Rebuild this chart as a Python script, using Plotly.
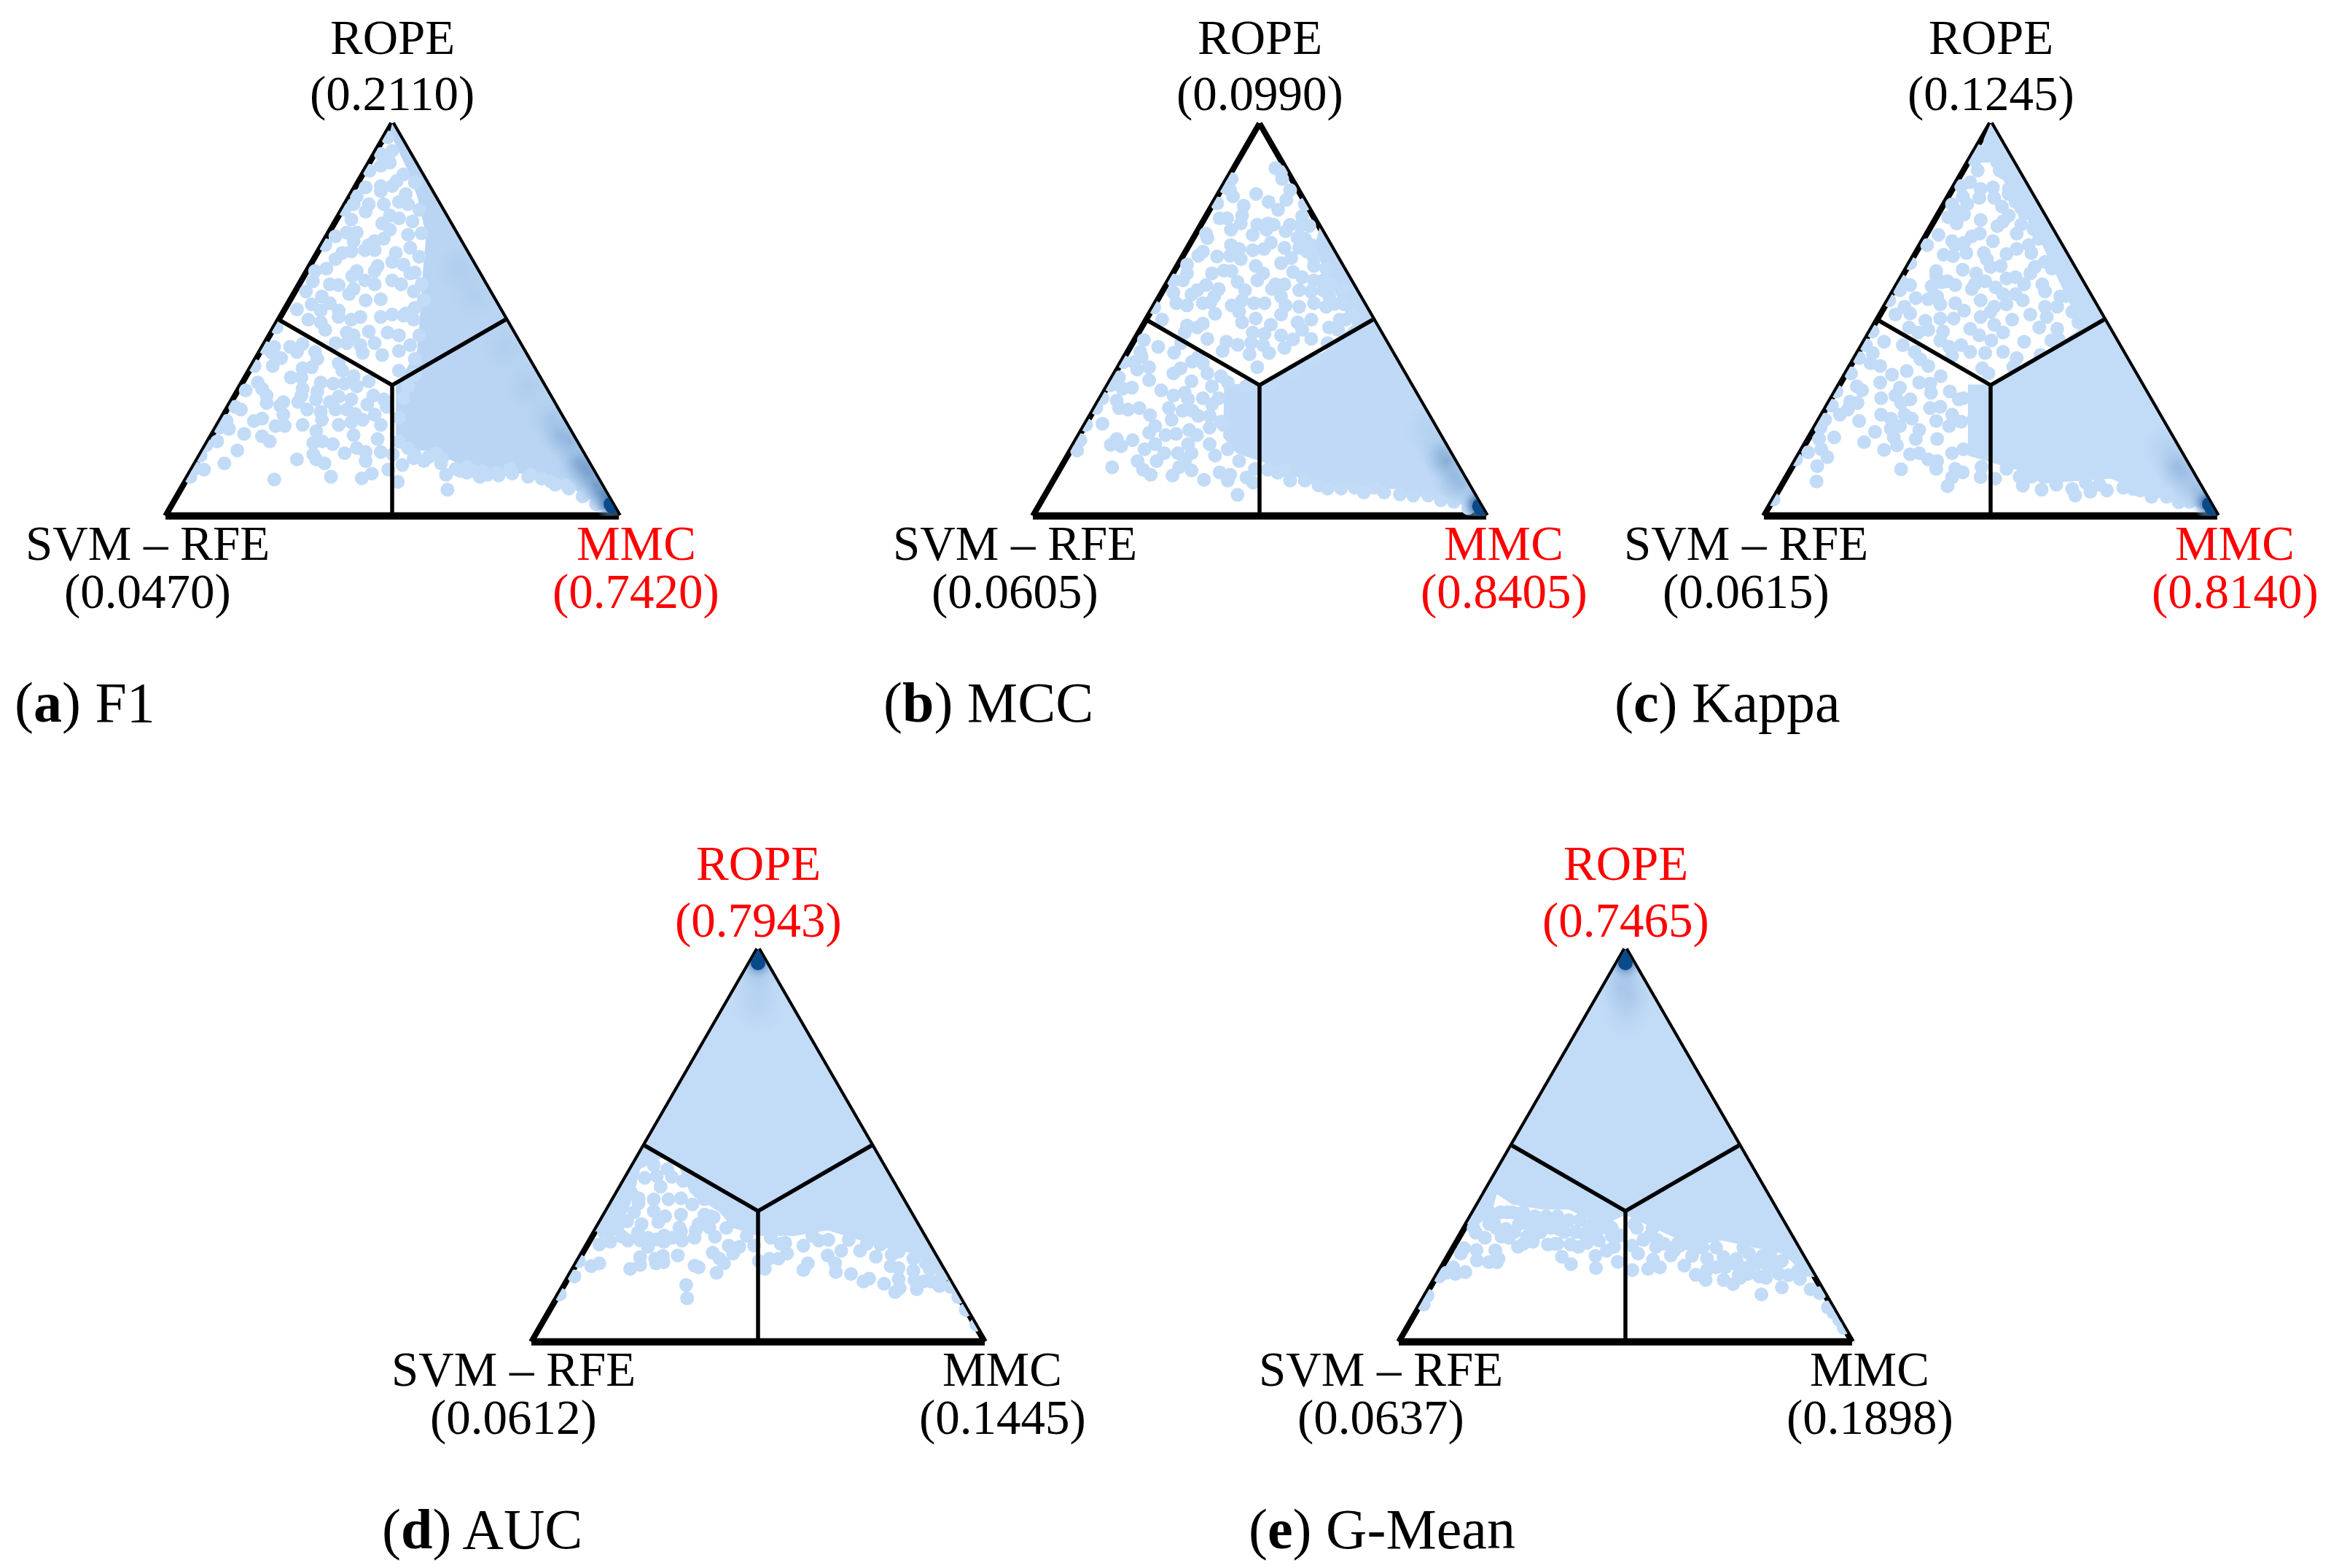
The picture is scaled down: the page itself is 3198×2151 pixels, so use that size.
import plotly.graph_objects as go

# Every sample is (MMC share minus SVM-RFE share, ROPE share).
f1_samples = [(-.02,.964),(-.05,.922),(0,.93),(-.05,.892),(-.01,.90),(-.10,.879),(.05,.87),(-.05,.84),(.02,.853),(-.117,.837),(-.156,.814),(-.103,.794),(-.05,.827),(0,.84),(.07,.794),(-.17,.794),(-.21,.78),(-.117,.775),(-.037,.794),(.03,.80),(-.01,.765),(.03,.758),(-.044,.745),(-.01,.729),(-.18,.755),(-.2,.722),(-.156,.722),(-.25,.712),(-.17,.70),(-.077,.70),(-.037,.706),(-.103,.69),(-.12,.677),(-.077,.677),(-.295,.69),(-.18,.674),(-.22,.67),(-.25,.654),(.016,.67),(.07,.716),(.08,.683),(0,.647),(-.064,.637),(-.077,.624),(-.156,.624),(-.176,.611),(-.29,.63),(-.34,.624),(-.236,.588),(-.275,.59),(-.35,.598),(-.12,.60),(-.077,.59),(0,.60),(.04,.59),(.08,.618),(-.17,.578),(-.19,.565),(-.38,.572),(-.31,.559),(-.275,.542),(-.355,.539),(-.117,.549),(-.05,.552),(.095,.572),(.13,.59),(-.42,.526),(-.315,.523),(-.236,.523),(-.236,.507),(-.18,.50),(-.14,.507),(-.37,.50),(-.315,.493),(-.05,.507),(0,.513),(.06,.516),(-.103,.47),(-.2,.467),(-.17,.46),(-.295,.474),(-.25,.44),(-.2,.44),(-.14,.435),(-.077,.44),(-.02,.467),(.03,.46),(-.13,.415),(-.044,.41),(.08,.435),(.03,.42),(.095,.50),
 (-.51,.48),(-.52,.431),(-.56,.428),(-.53,.415),(-.49,.402),(-.527,.382),(-.607,.382),(-.45,.431),(-.395,.438),(-.42,.418),(-.34,.418),(-.33,.40),(-.395,.376),(-.355,.379),(-.447,.353),(-.40,.353),(-.236,.389),(-.22,.37),(-.17,.356),(-.103,.343),(-.315,.34),(-.26,.337),(-.21,.337),(-.593,.34),(-.574,.324),(-.646,.32),(-.395,.324),(-.554,.307),(-.33,.317),(-.336,.297),(-.40,.307),(-.554,.288),(-.48,.29),(-.494,.281),(-.415,.29),(-.275,.29),(-.236,.304),(-.18,.297),(-.156,.33),(-.083,.307),(-.037,.297),(-.11,.284),(-.693,.278),(-.667,.271),(-.48,.258),(-.375,.271),(-.315,.265),(-.25,.271),(-.2,.271),(-.024,.278),(-.163,.26),(-.077,.258),(-.73,.242),(-.574,.248),(-.61,.242),(-.514,.229),(-.474,.229),(-.395,.232),(-.31,.245),(-.236,.232),(-.18,.239),(-.13,.245),(-.05,.232),(-.76,.225),(-.72,.222),(-.335,.216),(-.653,.209),(-.574,.203),(-.54,.19),(-.348,.186),(-.262,.183),(-.17,.206),(-.064,.196),(-.772,.19),(-.82,.18),(-.308,.19),(-.683,.167),(-.156,.173),(-.21,.16),(-.117,.163),(-.05,.163),(-.845,.154),(-.348,.157),(-.335,.144),(-.42,.144),(-.117,.14),(.003,.157),(-.74,.134),(-.298,.134),(-.865,.121),(-.83,.118),(.045,.13),(.095,.147),(.14,.14),(-.017,.118),(-.89,.10),(-.27,.10),(-.09,.108),(-.134,.096),(-.52,.093),(.025,.087),(.244,.067),(.238,.105),(.28,.12),(.387,.10),(.42,.105),(.47,.103),(.53,.108),(.61,.105),(.70,.088),(.77,.078),(.864,.062),(.917,.033),(.215,.134),(.07,.173),(.195,.16),
 (.10,.85),(.12,.78),(.13,.72),(.12,.66),(.10,.62),(.14,.55),(.10,.53),(.12,.46),(.10,.40),(.03,.37),(.05,.30),(.03,.25),(.03,.19),(.10,.155),(.16,.15),(.22,.145),(.33,.125),(.40,.115),(.46,.11),(.52,.12),(.60,.10),(.66,.095),(.72,.08),(.78,.07),(.84,.05),(.90,.03),(.07,.33),(.10,.36),(.05,.51),(.05,.64),(.09,.75),(.06,.82),(.33,.11),(.36,.115),(.30,.115),(.41,.11)]
f1_band = [(0,1),(.98,.02),(.97,.01),(.89,.036),(.80,.069),(.69,.088),(.57,.108),(.32,.125),(.27,.14),(.16,.165),(.016,.173),(.016,.33),(.11,.42),(.12,.487),(.135,.618),(.15,.716),(.11,.814),(.07,.879),(.016,.944),(-.01,.977)]
f1_peak = [(.97,.025,1.0),(.965,.03,1.0),(.95,.045,.9),(.93,.06,.6),(.90,.08,.55),(.87,.11,.5),(.85,.125,.45),(.82,.14,.4),(.78,.19,.35),(.74,.21,.3),(.70,.25,.2),(.60,.33,.12),(.50,.43,.08),(.36,.56,.06),(.30,.63,.1)]

mcc_samples = [(.07,.886),(.095,.876),(.10,.858),(-.123,.858),(-.15,.837),(-.117,.814),(-.13,.83),(-.015,.82),(.135,.83),(.118,.805),(.04,.80),(.082,.78),(.20,.794),(-.187,.796),(-.07,.79),(-.077,.765),(-.083,.745),(-.176,.758),(-.143,.758),(-.01,.742),(.036,.745),(.062,.742),(-.126,.729),(.03,.729),(.135,.742),(.115,.725),(.188,.763),(.18,.739),(.22,.739),(-.236,.719),(-.23,.708),(-.03,.716),(.168,.709),(.20,.706),(.05,.696),(-.126,.69),(.11,.683),(-.03,.677),(.02,.68),(-.09,.68),(-.25,.673),(-.27,.663),(-.187,.661),(-.13,.663),(-.083,.654),(.175,.683),(.21,.673),(.24,.657),(.095,.644),(.14,.657),(-.32,.64),(-.017,.637),(-.157,.625),(-.124,.624),(-.21,.618),(-.32,.618),(.148,.621),(.188,.608),(.24,.637),(.294,.63),(-.38,.60),(-.338,.6),(.016,.618),(-.01,.60),(-.097,.596),(.07,.59),(.24,.60),(.32,.59),(-.18,.578),(-.236,.588),(-.064,.575),(-.275,.575),(.11,.59),(.175,.575),(.227,.572),(.28,.575),(-.38,.569),(-.30,.564),(-.20,.559),(.055,.578),(.095,.559),(.307,.56),(.373,.578),(-.367,.542),(-.216,.544),(-.25,.542),(-.32,.536),(-.123,.536),(-.077,.549),(-.024,.542),(.022,.542),(.115,.536),(.175,.533),(.24,.542),(.294,.533),(.373,.539),(-.464,.531),(-.196,.515),(-.09,.52),(.095,.513),(.354,.50),(.413,.51),(-.43,.50),(-.077,.493),(-.017,.503),(.05,.487),(.168,.493),(.228,.50),(-.25,.49),(-.32,.485),(-.275,.48),(.307,.48),(-.33,.467),(-.03,.467),(.022,.464),(.095,.46),(.188,.474),(.347,.474),(-.23,.451),(.148,.45),(-.51,.448),(-.146,.444),(-.096,.436),(-.037,.441),(.016,.435),(.228,.451),(-.447,.431),(-.346,.44),(.11,.428),(-.163,.42),(-.526,.418),(-.377,.416),(-.044,.412),(.042,.415),(-.52,.405),(-.27,.405),(-.6,.392),(-.554,.392),(-.298,.393),(-.25,.389),(-.487,.379),(-.01,.379),(-.54,.373),(-.348,.376),(-.38,.363),(-.23,.363),(-.17,.356),(-.62,.353),(-.487,.346),(-.30,.343),(-.21,.33),(-.657,.333),(-.604,.324),(-.563,.327),(-.434,.32),(-.33,.314),(-.38,.307),(-.25,.30),(-.693,.30),(-.315,.297),(-.63,.294),(-.21,.284),(-.62,.275),(-.58,.271),(-.53,.275),(-.72,.275),(-.40,.275),(-.34,.268),(-.296,.268),(-.483,.257),(-.388,.245),(-.27,.255),(-.22,.255),(-.16,.232),(-.765,.232),(-.693,.235),(-.46,.229),(-.22,.225),(-.31,.219),(-.487,.212),(-.415,.206),(-.368,.209),(-.276,.206),(-.79,.193),(-.63,.196),(-.56,.193),(-.656,.181),(-.46,.183),(-.61,.178),(-.315,.183),(-.22,.183),(-.805,.167),(-.507,.17),(-.42,.16),(-.36,.16),(-.30,.16),(-.196,.154),(-.454,.14),(-.538,.14),(-.328,.14),(-.65,.124),(-.355,.124),(-.30,.116),(-.514,.118),(-.48,.105),(-.384,.103),(-.176,.111),(-.13,.105),(-.057,.098),(-.14,.09),(-.245,.092),(-.028,.085),(-.097,.054),(.135,.09),(.11,.116),(.036,.118),(.26,.078),(.42,.072),(.506,.072),(.678,.052),(.744,.052),(.857,.036),
 (.30,.07),(.36,.07),(.46,.06),(.55,.06),(.62,.055),(.80,.04),(.92,.02),(.20,.09),(.08,.11),(-.02,.12),(-.09,.14),(-.14,.17),(-.17,.24),(-.18,.30),(-.14,.34),(-.06,.33),(.06,.34),(.15,.37),(.24,.40),(.30,.44),(.38,.50),(.33,.54),(.28,.60),(.23,.69)]
mcc_band = [(.265,.735),(.99,.01),(.956,.013),(.864,.036),(.744,.049),(.665,.049),(.6,.069),(.49,.069),(.41,.075),(.254,.075),(.16,.10),(.03,.134),(-.10,.16),(-.16,.20),(-.156,.337),(0,.335),(.294,.422),(.41,.487),(.347,.552),(.294,.618),(.24,.683)]
mcc_peak = [(.975,.02,1.0),(.97,.025,1.0),(.96,.035,.9),(.89,.08,.3),(.86,.10,.3),(.824,.14,.45),(.80,.16,.3),(.75,.22,.1)]

kappa_samples = [(-.07,.905),(.03,.90),(-.057,.88),(.06,.873),(-.13,.84),(-.09,.85),(-.044,.833),(.01,.837),(.08,.833),(-.123,.814),(-.05,.81),(.016,.81),(.11,.80),(-.103,.794),(-.17,.794),(-.156,.778),(.05,.788),(.135,.784),(-.117,.768),(-.187,.761),(.08,.765),(-.15,.745),(-.044,.754),(.03,.738),(.055,.75),(.135,.742),(.195,.748),(-.23,.716),(-.17,.70),(-.083,.712),(-.048,.719),(-.117,.696),(.01,.70),(.115,.719),(.168,.69),(.214,.706),(-.156,.69),(-.28,.69),(-.207,.665),(-.166,.662),(-.107,.67),(-.03,.67),(.07,.667),(.115,.68),(.18,.67),(-.017,.654),(-.355,.644),(0,.634),(.045,.637),(.195,.634),(.24,.647),(-.24,.624),(-.123,.627),(-.064,.618),(.175,.618),(-.24,.611),(-.024,.598),(.07,.605),(.11,.608),(-.216,.595),(-.19,.598),(-.26,.585),(-.355,.588),(-.395,.598),(-.156,.588),(-.07,.59),(.228,.59),(.148,.59),(.022,.582),(-.083,.578),(-.40,.575),(-.33,.555),(-.275,.552),(-.236,.559),(.055,.565),(.11,.565),(.24,.572),(.307,.559),(-.447,.549),(-.222,.539),(-.156,.542),(-.044,.549),(.016,.533),(.07,.539),(.142,.549),(.24,.533),(-.38,.533),(-.117,.523),(.294,.533),(.36,.52),(-.42,.513),(-.355,.516),(-.044,.507),(0,.52),(.175,.513),(.248,.507),(-.288,.497),(-.222,.503),(-.163,.503),(.095,.50),(.387,.493),(-.36,.48),(-.275,.474),(-.21,.47),(-.09,.477),(.016,.487),(.215,.48),(.294,.477),(-.52,.47),(-.32,.467),(-.05,.46),(.055,.467),(-.47,.444),(-.222,.447),(.003,.447),(.148,.444),(.268,.447),(-.55,.435),(-.387,.435),(-.13,.435),(-.183,.431),(-.52,.415),(-.335,.418),(-.09,.418),(-.17,.408),(-.024,.415),(.055,.418),(.115,.402),(-.58,.402),(-.53,.389),(-.31,.399),(-.487,.382),(-.275,.382),(-.37,.369),(-.037,.376),(-.01,.363),(-.616,.363),(-.435,.36),(-.22,.356),(-.487,.34),(-.315,.34),(-.267,.337),(-.59,.33),(-.567,.32),(-.40,.327),(-.68,.317),(-.263,.314),(-.42,.307),(-.18,.317),(-.483,.30),(-.354,.297),(-.14,.297),(-.62,.291),(-.587,.288),(-.395,.288),(-.70,.281),(-.63,.271),(-.267,.275),(-.222,.278),(-.483,.258),(-.665,.258),(-.38,.258),(-.17,.258),(-.44,.248),(-.348,.248),(-.24,.242),(-.58,.242),(-.73,.245),(-.077,.245),(-.75,.225),(-.40,.229),(-.183,.229),(-.44,.222),(-.51,.214),(-.315,.219),(-.69,.20),(-.757,.196),(-.427,.20),(-.236,.196),(-.33,.196),(-.558,.188),(-.413,.18),(-.747,.17),(-.47,.168),(-.805,.162),(-.72,.15),(-.355,.157),(-.315,.16),(-.17,.16),(-.275,.144),(-.236,.14),(-.858,.144),(-.765,.127),(-.24,.12),(-.395,.119),(-.156,.12),(-.123,.111),(-.044,.099),(.02,.095),(-.17,.098),(-.19,.076),(-.768,.088),(.142,.077),(.128,.10),(.225,.067),(.36,.069),(.373,.052),(.44,.062),(.513,.065),(.585,.072),(.63,.069),(.71,.049),(-.958,.042),(.777,.049),(.877,.036),
 (.29,.08),(.42,.085),(.48,.08),(.66,.065),(.83,.035),(.18,.10),(.07,.12),(-.04,.125),(-.12,.17),(-.13,.24),(-.12,.30),(.10,.38),(.22,.41),(.30,.45),(.41,.49),(.33,.56),(.27,.63),(.19,.73),(.15,.77),(.08,.82),(.04,.88),(-.06,.93)]
kappa_band = [(0,1),(.99,.01),(.956,.013),(.85,.036),(.718,.049),(.638,.069),(.53,.095),(.347,.088),(.228,.082),(.135,.114),(.016,.134),(-.10,.154),(-.10,.335),(0,.335),(.26,.42),(.40,.48),(.30,.60),(.22,.70),(.17,.75),(.13,.80),(.06,.85),(.02,.90),(-.05,.90),(-.03,.96)]
kappa_peak = [(.975,.02,1.0),(.965,.03,1.0),(.95,.04,.9),(.90,.07,.3),(.85,.11,.25),(.824,.127,.3),(.78,.17,.12)]

auc_samples = [(-.50,.418),(-.447,.422),(-.38,.42),(-.43,.395),(-.527,.366),(-.527,.353),(-.46,.363),(-.395,.363),(-.34,.366),(-.26,.382),(-.236,.363),(-.17,.366),(-.547,.33),(-.46,.333),(-.34,.324),(-.236,.324),(-.196,.317),(-.578,.307),(-.41,.32),(-.44,.305),(-.514,.30),(-.347,.291),(-.262,.30),(-.215,.291),(-.652,.284),(-.34,.281),(-.275,.284),(-.53,.278),(-.60,.268),(-.574,.258),(-.519,.258),(-.486,.265),(-.447,.261),(-.415,.271),(-.38,.265),(-.335,.258),(-.28,.265),(-.19,.268),(-.652,.255),(-.486,.242),(-.415,.255),(-.13,.245),(-.017,.245),(-.083,.242),(-.70,.248),(-.11,.225),(-.2,.227),(-.52,.216),(-.454,.212),(-.42,.219),(-.354,.22),(-.17,.212),(-.70,.20),(-.736,.193),(-.79,.206),(-.52,.196),(-.45,.20),(-.417,.203),(-.28,.194),(-.262,.19),(-.15,.20),(-.564,.186),(-.183,.176),(-.81,.167),(-.317,.145),(-.313,.111),(-.874,.121),(.003,.206),(.05,.212),(.09,.212),(.03,.186),(.128,.225),(.12,.252),(.056,.265),(.20,.245),(.268,.258),(.22,.20),(.2,.183),(.307,.22),(.34,.20),(.343,.178),(.367,.232),(.45,.232),(.52,.217),(.41,.173),(.465,.154),(.49,.161),(.556,.148),(.605,.127),(.625,.137),(.62,.16),(.585,.193),(.62,.188),(.685,.181),(.70,.134),(.69,.157),(.73,.154),(.764,.154),(.80,.142),(.758,.185),(.685,.212),(.59,.222),(.54,.248),(.85,.14),(.883,.114),(.916,.082),(.963,.044),(.81,.167),
 (.10,.25),(.24,.27),(.31,.26),(.40,.26),(.48,.25),(.62,.23),(.74,.20),(-.05,.27),(-.14,.29),(-.21,.32),(-.29,.35),(-.33,.41),(-.40,.44),(-.46,.45),(-.56,.38),(-.62,.29),(-.68,.28)]
auc_band = [(0,1),(.85,.15),(.69,.225),(.56,.239),(.307,.284),(.16,.27),(0,.27),(-.11,.29),(-.17,.33),(-.30,.38),(-.36,.46),(-.42,.47),(-.52,.44),(-.55,.37),(-.60,.30),(-.72,.28)]
auc_peak = [(0,.985,1.0),(0,.975,1.0),(0,.965,1.0),(0,.95,.3),(0,.90,.08),(0,.85,.05)]

gmean_samples = [(-.66,.278),(-.62,.265),(-.58,.304),(-.527,.288),(-.547,.268),(-.514,.265),(-.712,.239),(-.657,.234),(-.574,.233),(-.56,.212),(-.655,.207),(-.602,.203),(-.567,.203),(-.706,.178),(-.76,.19),(-.79,.176),(-.726,.225),(-.474,.242),(-.434,.268),(-.408,.255),(-.375,.279),(-.342,.248),(-.31,.25),(-.38,.307),(-.474,.327),(-.295,.288),(-.25,.31),(-.242,.248),(-.207,.242),(-.17,.252),(-.28,.217),(-.24,.198),(-.132,.219),(-.13,.188),(-.083,.232),(-.05,.242),(-.034,.204),(-.117,.258),(-.024,.271),(-.183,.275),(-.103,.291),(.03,.183),(.1,.186),(.152,.19),(.122,.209),(.056,.225),(.109,.271),(.03,.245),(.215,.232),(.294,.219),(.26,.194),(.31,.171),(.354,.158),(.36,.212),(.36,.183),(.24,.245),(.135,.242),(.433,.158),(.475,.147),(.506,.163),(.54,.173),(.473,.2),(.433,.216),(.49,.212),(.55,.193),(.59,.167),(.62,.163),(.605,.219),(.677,.173),(.69,.206),(.69,.139),(.60,.121),(.817,.134),(.857,.124),(.77,.16),(.893,.088),(.943,.056),(.963,.036),(.917,.075),(.546,.225),(-.89,.095),(-.873,.118),(-.82,.167),(-.75,.173),
 (.05,.29),(.14,.26),(.23,.25),(.34,.24),(.40,.24),(.52,.24),(.64,.22),(.76,.18),(-.06,.29),(-.16,.29),(-.30,.31),(-.42,.31),(-.52,.33),(-.60,.30),(-.67,.29),(.28,.25),(.12,.29),
 (-.55,.33),(-.50,.33),(-.45,.33),(-.40,.32),(-.35,.32),(-.30,.32),(-.20,.31),(-.15,.30),(-.08,.30),(-.47,.30),(-.42,.29),(-.33,.29),(-.27,.28),(-.60,.33),(-.57,.29),(-.49,.28),(-.22,.28),(-.14,.27),(-.06,.27),(-.45,.25),(-.30,.25),(.04,.30),(.08,.26),(.17,.25),(.20,.22),(.32,.24),(.40,.19),(.44,.19),(.51,.19),(.58,.20),(.63,.19),(.66,.20),(.72,.17),(.50,.17)]
gmean_band = [(0,1),(.835,.165),(.797,.167),(.73,.206),(.69,.225),(.426,.258),(.294,.245),(0,.323),(-.103,.297),(-.25,.337),(-.368,.337),(-.50,.35),(-.567,.376),(-.593,.324),(-.646,.30),(-.70,.30)]
gmean_peak = [(0,.985,1.0),(0,.975,1.0),(0,.965,1.0),(0,.95,.35),(-.02,.90,.2),(.02,.88,.15),(0,.84,.08)]

corner_names = ["ROPE", "SVM \u2013 RFE", "MMC"]
f1_probs = ["0.2110", "0.0470", "0.7420"]
mcc_probs = ["0.0990", "0.0605", "0.8405"]
kappa_probs = ["0.1245", "0.0615", "0.8140"]
auc_probs = ["0.7943", "0.0612", "0.1445"]
gmean_probs = ["0.7465", "0.0637", "0.1898"]
panel_tags = ["a", "b", "c", "d", "e"]
panel_names = ["F1", "MCC", "Kappa", "AUC", "G-Mean"]

# region dividers: (MMC minus SVM, ROPE) from centre to each edge midpoint
divider_nodes = [(-.5,.5),(0,1/3),(.5,.5),None,(0,1/3),(0,0)]

W, H = 3198, 2151
SIDE = 622
DOT = "#c2dbf7"
CORE = "#0b4a8a"
FONT = "Liberation Serif"
LABEL = 67
panels = [
    (538, 168, f1_samples, f1_band, f1_peak, f1_probs, 18, 963, "#bad5f3"),
    (1728, 168, mcc_samples, mcc_band, mcc_peak, mcc_probs, 1210, 963, "#bfd9f6"),
    (2731, 168, kappa_samples, kappa_band, kappa_peak, kappa_probs, 2213, 963, DOT),
    (1040, 1301, auc_samples, auc_band, auc_peak, auc_probs, 522, 2097, DOT),
    (2230, 1301, gmean_samples, gmean_band, gmean_peak, gmean_probs, 1711, 2097, DOT),
]


def shares(pairs):
    rope = [None if p is None else p[1] for p in pairs]
    svm = [None if p is None else (1 - p[1] - p[0]) / 2 for p in pairs]
    mmc = [None if p is None else (1 - p[1] + p[0]) / 2 for p in pairs]
    return rope, svm, mmc


def blend(level):
    lo, hi = (150, 188, 228), (8, 62, 125)
    t = min(1, level) ** 1.1
    r, g, b = [round(l + (h - l) * t) for l, h in zip(lo, hi)]
    return f"rgba({r},{g},{b},{min(1, 0.2 + 1.2 * level):.2f})"


fig = go.Figure()
axis = dict(showticklabels=False, ticks="", showgrid=False, showline=True, linecolor="black",
            linewidth=8, layer="below traces", min=0, title=dict(text=""))
notes = []


def note(x, y, text, color="black", size=LABEL, anchor="center"):
    notes.append(dict(x=x / W, y=1 - y / H, xref="paper", yref="paper", text=text, showarrow=False,
                      xanchor=anchor, yanchor="middle", font=dict(family=FONT, size=size, color=color)))


for i, (cx, top, samples, band, peak, probs, tag_x, tag_y, band_color) in enumerate(panels):
    key = "ternary" if i == 0 else f"ternary{i + 1}"
    base = top + 541
    fig.update_layout({key: dict(
        domain=dict(x=[(cx - SIDE / 2) / W, (cx + SIDE / 2) / W], y=[1 - base / H, 1 - top / H]),
        sum=1, bgcolor="rgba(0,0,0,0)", aaxis=axis, baxis={**axis, "linewidth": 10}, caxis=axis)})
    sub = key
    ra, rb, rc = shares(band + band[:1])
    fig.add_trace(go.Scatterternary(a=ra, b=rb, c=rc, mode="lines", line=dict(width=0), fill="toself",
                                    fillcolor=band_color, subplot=sub, showlegend=False, hoverinfo="skip"))
    sa, sb, sc = shares(samples)
    fig.add_trace(go.Scatterternary(a=sa, b=sb, c=sc, mode="markers", marker=dict(size=19, color=DOT),
                                    subplot=sub, showlegend=False, hoverinfo="skip"))
    pa, pb, pc = shares([p[:2] for p in peak])
    levels = [p[2] for p in peak]
    fig.add_trace(go.Scatterternary(
        a=pa, b=pb, c=pc, mode="markers", subplot=sub, showlegend=False, hoverinfo="skip",
        marker=dict(size=[75 - 30 * v for v in levels], color="rgba(150,188,228,0)",
                    gradient=dict(type="radial", color=[blend(v) for v in levels]), line=dict(width=0))))
    ca, cb, cc = shares([p[:2] for p in peak if p[2] >= 1])
    fig.add_trace(go.Scatterternary(a=ca, b=cb, c=cc, mode="markers", marker=dict(size=20, color=CORE),
                                    subplot=sub, showlegend=False, hoverinfo="skip"))
    da, db, dc = shares(divider_nodes)
    fig.add_trace(go.Scatterternary(a=da, b=db, c=dc, mode="lines", line=dict(color="black", width=5.5),
                                    subplot=sub, showlegend=False, hoverinfo="skip"))
    colors = ["black"] * 3
    colors[max(range(3), key=lambda k: float(probs[k]))] = "#ff0000"
    y_off = top - 168
    note(cx, 51 + y_off, corner_names[0], colors[0])
    note(cx, 129 + y_off, f"({probs[0]})", colors[0])
    note(cx - 336, 745 + y_off, corner_names[1], colors[1])
    note(cx - 336, 811 + y_off, f"({probs[1]})", colors[1])
    note(cx + 335, 745 + y_off, corner_names[2], colors[2])
    note(cx + 335, 811 + y_off, f"({probs[2]})", colors[2])
    note(tag_x, tag_y, f"(<b>{panel_tags[i]}</b>) {panel_names[i]}", size=78, anchor="left")

fig.update_layout(width=W, height=H, margin=dict(l=0, r=0, t=0, b=0), paper_bgcolor="white",
                  plot_bgcolor="white", annotations=notes, showlegend=False)
fig.write_html("out.html", config={"displayModeBar": False}, post_script="document.body.style.margin='0';")
